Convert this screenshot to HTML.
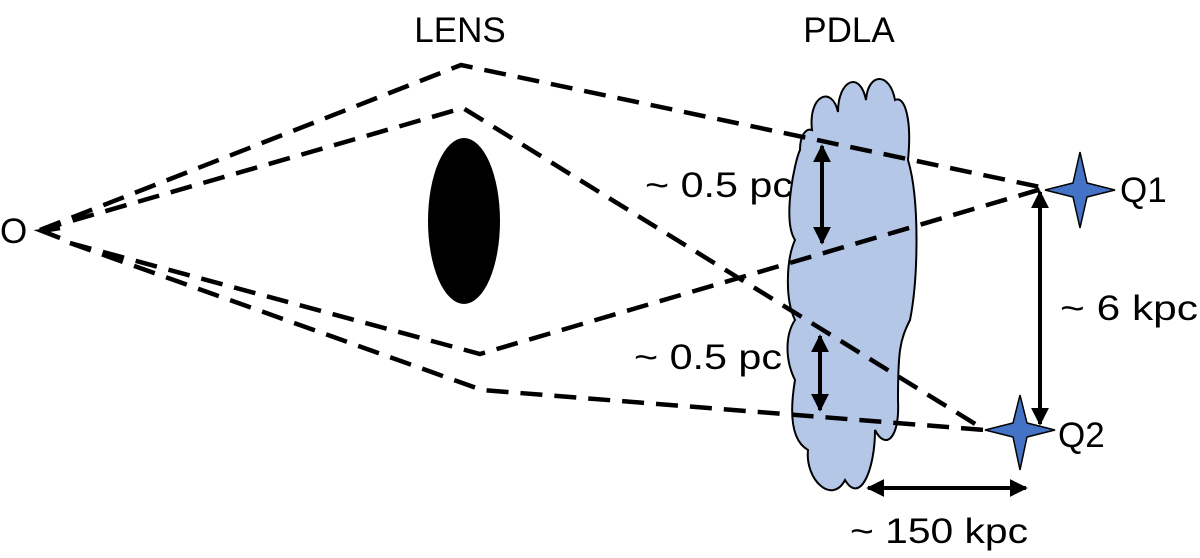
<!DOCTYPE html>
<html><head><style>body{margin:0;background:#fff}svg{display:block}text{font-family:"Liberation Sans",sans-serif;fill:#000}</style></head><body>
<svg width="1200" height="558" viewBox="0 0 1200 558" xmlns="http://www.w3.org/2000/svg">
<defs><marker id="a" viewBox="0 0 10 10" refX="9" refY="5" markerWidth="4.5" markerHeight="4.5" orient="auto-start-reverse"><path d="M0,0L10,5L0,10z" fill="#000"/></marker></defs>
<path d="M812,130 C808,95 832,85 838,112 C838,80 860,70 866,100 C868,72 890,72 895,100 C905,95 912,120 908,160 C920,200 918,280 910,320 C900,340 898,350 898,400 C900,440 885,450 875,430 C875,470 860,505 845,480 C832,505 805,480 808,450 C790,440 790,410 795,380 C785,360 785,335 795,320 C785,300 786,260 795,240 C782,220 795,160 800,150 C800,135 806,128 812,130 Z" fill="#b4c7e7" stroke="#000" stroke-width="2"/>
<ellipse cx="464" cy="221" rx="36" ry="83" fill="#000"/>
<g fill="none" stroke="#000" stroke-width="4.5" stroke-dasharray="22,12">
<path d="M40,230 L461,65 L1045,188"/>
<path d="M40,230 L463,108 L985,430"/>
<path d="M70,243 L480,354 L1045,188"/>
<path d="M70,243 L482,390 L985,430"/>
</g>
<path d="M60,228 L42,231 L60,238" fill="none" stroke="#000" stroke-width="4.5"/>
<g stroke="#000" stroke-width="4" marker-start="url(#a)" marker-end="url(#a)">
<line x1="822" y1="146" x2="822" y2="243"/>
<line x1="820" y1="336" x2="820" y2="410"/>
<line x1="1040" y1="192" x2="1040" y2="424"/>
<line x1="868" y1="488" x2="1026" y2="488"/>
</g>
<path d="M1080,152 L1087,183 L1115,190 L1087,197 L1080,228 L1073,197 L1045,190 L1073,183 Z" fill="#4472c4" stroke="#000" stroke-width="1.5"/>
<path d="M1020,395 L1027,423 L1055,430 L1027,437 L1020,470 L1013,437 L985,430 L1013,423 Z" fill="#4472c4" stroke="#000" stroke-width="1.5"/>
<g font-size="35">
<text x="460" y="42" text-anchor="middle">LENS</text>
<text x="849" y="42" text-anchor="middle">PDLA</text>
<text x="0" y="243">O</text>
<text x="645" y="197" textLength="148" lengthAdjust="spacingAndGlyphs">~ 0.5 pc</text>
<text x="634" y="369" textLength="148" lengthAdjust="spacingAndGlyphs">~ 0.5 pc</text>
<text x="1060" y="320" textLength="138" lengthAdjust="spacingAndGlyphs">~ 6 kpc</text>
<text x="1120" y="202">Q1</text>
<text x="1058" y="447">Q2</text>
<text x="850" y="543" textLength="178" lengthAdjust="spacingAndGlyphs">~ 150 kpc</text>
</g>
</svg>
</body></html>
